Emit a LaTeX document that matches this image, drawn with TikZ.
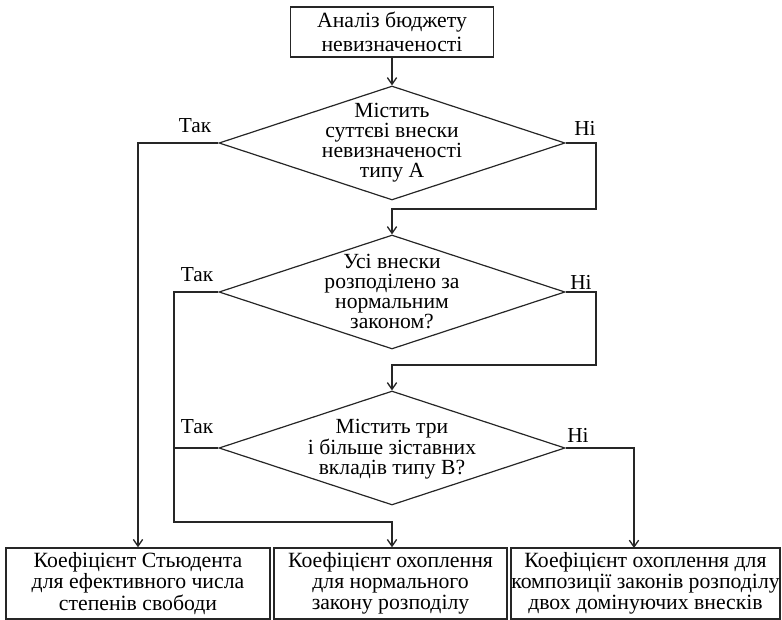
\documentclass[tikz,border=0pt]{standalone}
\usepackage{fontspec}
\setmainfont{Liberation Serif}
\usetikzlibrary{shapes.geometric,arrows.meta}
\tikzset{
  ln/.style={line width=1.1pt,draw=black!85},
  arr/.style={ln,-{Straight Barb[length=5pt,width=7pt,line width=1pt]}},
  topbox/.style={draw=black!85,line width=1.1pt,minimum width=203*0.75pt,minimum height=50*0.75pt,inner sep=0pt,align=center,font=\fontsize{16.3}{18}\selectfont},
  dia/.style={diamond,draw=black!85,line width=0.9pt,minimum width=346*0.75pt,minimum height=114*0.75pt,inner sep=0pt},
  diatext/.style={align=center,inner sep=0pt,font=\fontsize{16.2}{15}\selectfont},
  endbox/.style={draw=black!85,line width=1.1pt,minimum height=71*0.75pt,inner sep=0pt,align=center,font=\fontsize{16.3}{15.8}\selectfont},
  lbl/.style={inner sep=0pt,font=\fontsize{16}{16}\selectfont}
}
\begin{document}
\begin{tikzpicture}[x=0.75pt,y=-0.75pt]
\useasboundingbox (0,0) rectangle (782,620);
\node[topbox] (top) at (392,32) {Аналіз бюджету\\невизначеності};
\node[dia] (d1) at (392,143) {};
\node[diatext] (d1t) at (392,143) {Містить\\суттєві внески\\невизначеності\\типу А};
\node[dia] (d2) at (392,292) {};
\node[diatext] (d2t) at (392,292) {Усі внески\\розподілено за\\нормальним\\законом?};
\node[dia] (d3) at (392,448) {};
\node[diatext] (d3t) at (392,449) {Містить три\\і більше зіставних\\вкладів типу В?};
\node[endbox,minimum width=264*0.75pt] (b1) at (138,583.5) {Коефіцієнт Стьюдента\\для ефективного числа\\степенів свободи};
\node[endbox,minimum width=233*0.75pt] (b2) at (390.5,583.5) {Коефіцієнт охоплення\\для нормального\\закону розподілу};
\node[endbox,minimum width=269*0.75pt] (b3) at (645.5,583.5) {Коефіцієнт охоплення для\\композиції законів розподілу\\двох домінуючих внесків};
\node[lbl] (y1) at (195,126) {Так};
\node[lbl] (n1) at (585,128) {Ні};
\node[lbl] (y2) at (197,275) {Так};
\node[lbl] (n2) at (581,282) {Ні};
\node[lbl] (y3) at (197,427) {Так};
\node[lbl] (n3) at (578,435) {Ні};
\coordinate (c1) at (138,143);
\coordinate (c2) at (596,143);
\coordinate (c3) at (596,209);
\coordinate (c4) at (392,209);
\coordinate (c5) at (174,292);
\coordinate (c6) at (174,522);
\coordinate (c7) at (392,522);
\coordinate (c8) at (596,292);
\coordinate (c9) at (596,365);
\coordinate (c10) at (392,365);
\coordinate (c11) at (174,448);
\coordinate (c12) at (634,448);
\coordinate (c13) at (634,548);
\draw[arr] (top) -- (d1);
\draw[arr] (d1.west) -- (c1) -- (b1.north -| c1);
\draw[arr] (d1.east) -- (c2) -- (c3) -- (c4) -- (d2.north);
\draw[arr] (d2.west) -- (c5) -- (c6) -- (c7) -- (b2.north -| c7);
\draw[arr] (d2.east) -- (c8) -- (c9) -- (c10) -- (d3.north);
\draw[ln] (d3.west) -- (c11);
\draw[arr] (d3.east) -- (c12) -- (c13);
\end{tikzpicture}
\end{document}
